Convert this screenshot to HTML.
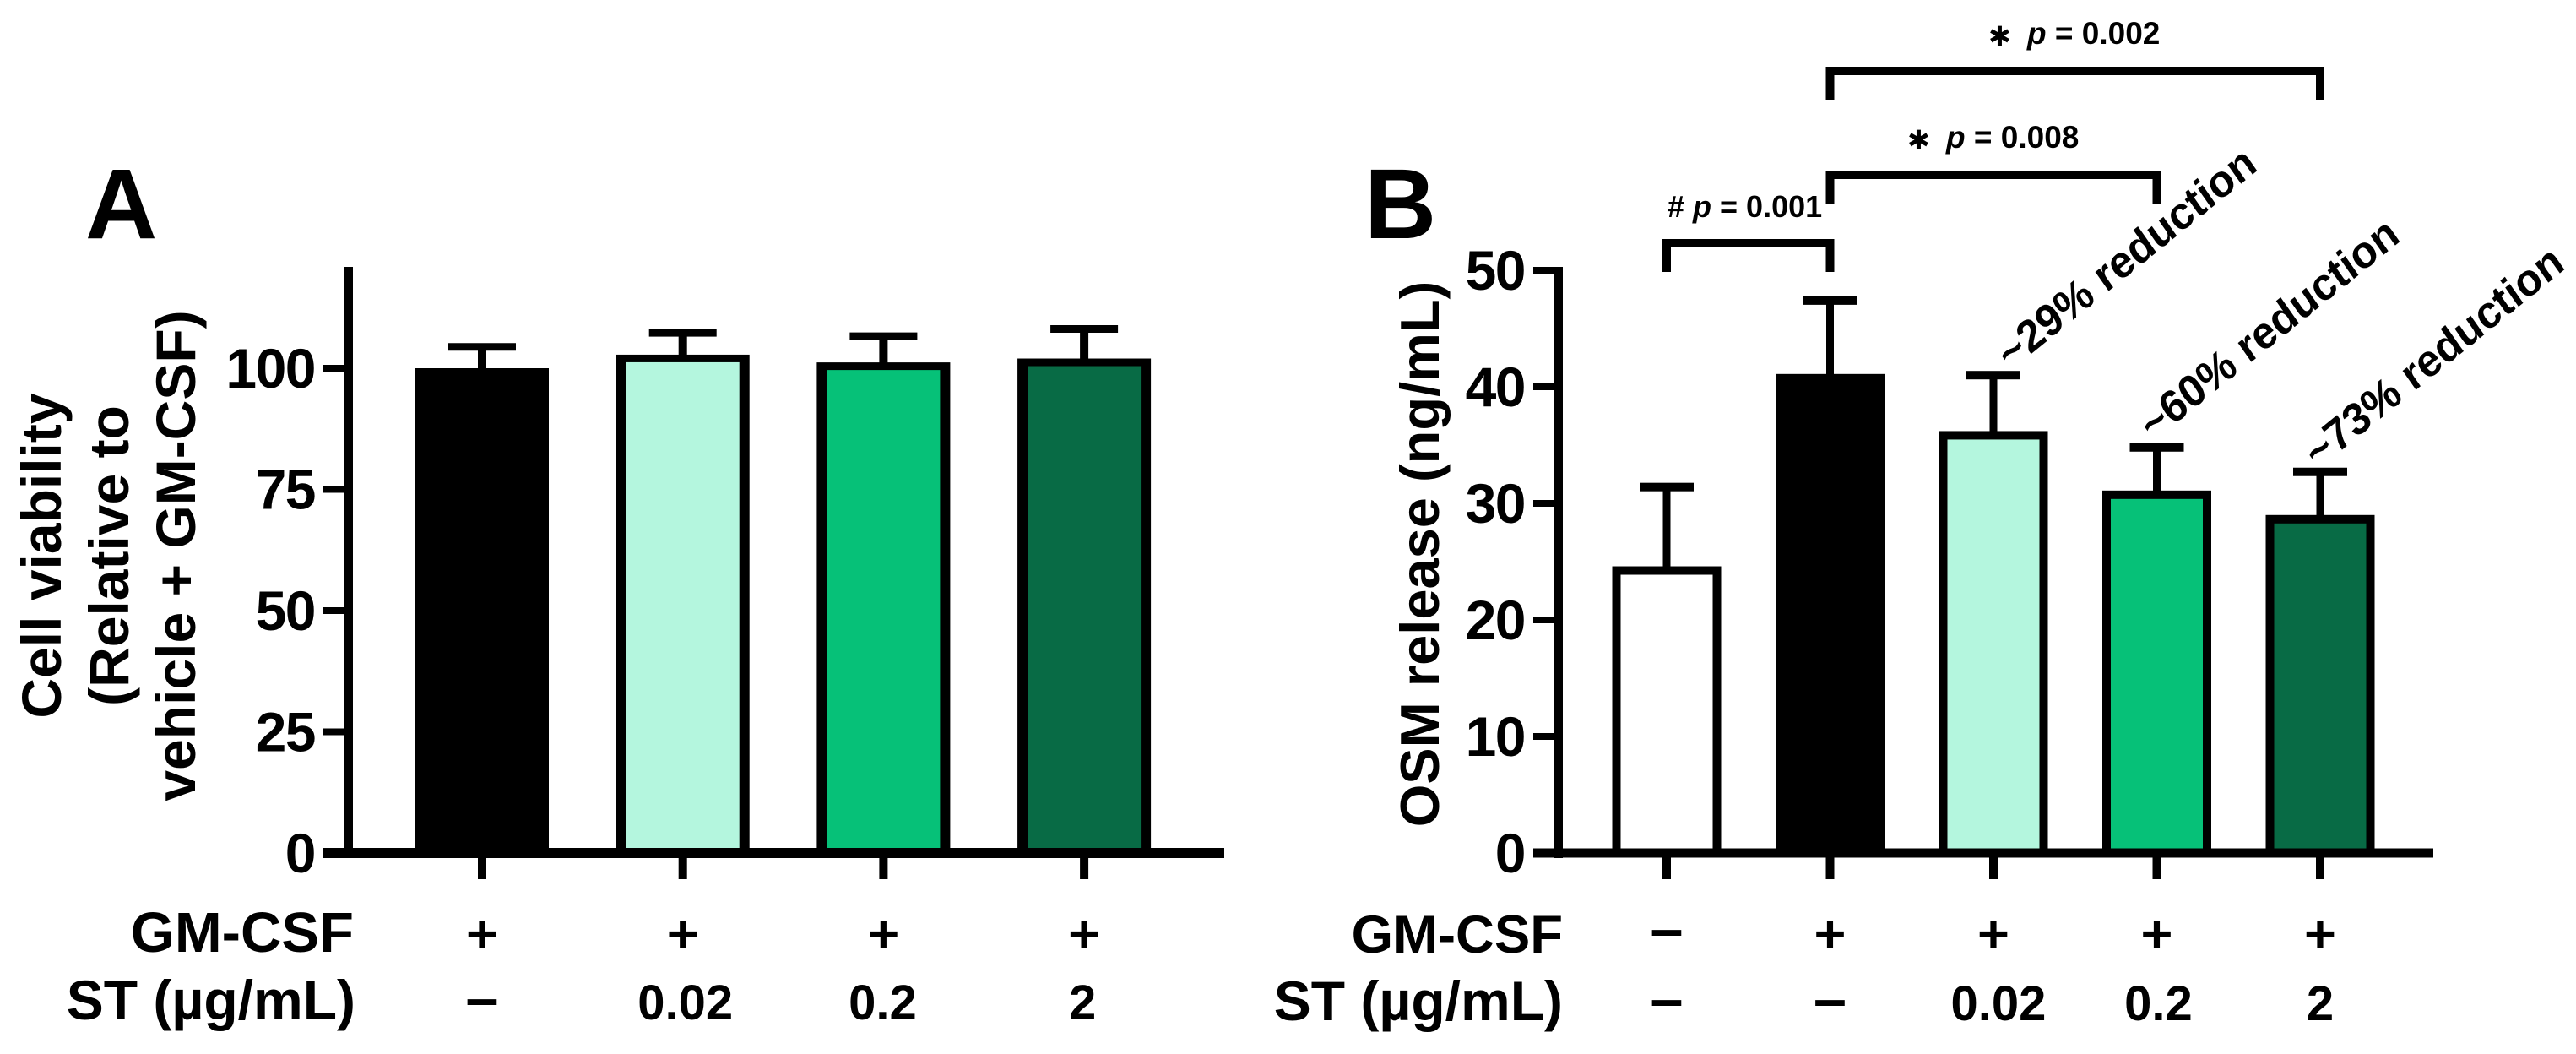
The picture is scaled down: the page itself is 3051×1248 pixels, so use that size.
<!DOCTYPE html>
<html lang="en">
<head>
<meta charset="utf-8">
<title>Cell viability and OSM release bar charts</title>
<style>
html,body{margin:0;padding:0;background:#fff;width:3051px;height:1248px;overflow:hidden}
svg{display:block}
text{font-family:"Liberation Sans",Arial,sans-serif;font-weight:700;fill:#000}
</style>
</head>
<body>
<svg id="figure" xmlns="http://www.w3.org/2000/svg" width="3051" height="1248" viewBox="0 0 3051 1248">
  <rect x="0" y="0" width="3051" height="1248" fill="#fff"/>
  <g id="panelA"></g>
  <g id="panelB"></g>

  <text x="101" y="282" font-size="118">A</text>
  <text x="1616" y="282" font-size="118">B</text>

  <g font-size="66" text-anchor="middle">
    <text transform="translate(72,658) rotate(-90)">Cell viability</text>
    <text transform="translate(152,658) rotate(-90)">(Relative to</text>
    <text transform="translate(231,658) rotate(-90)">vehicle + GM-CSF)</text>
  </g>
  <text font-size="65" text-anchor="middle" transform="translate(1704,656) rotate(-90)">OSM release (ng/mL)</text>

  <text x="419" y="1127" font-size="67" text-anchor="end">GM-CSF</text>
  <text x="421" y="1207" font-size="66" text-anchor="end">ST (µg/mL)</text>
  <text x="1851" y="1128" font-size="63.5" text-anchor="end">GM-CSF</text>
  <text x="1851" y="1208" font-size="66" text-anchor="end">ST (µg/mL)</text>

  <text x="2401" y="52" font-size="37"><tspan font-style="italic">p</tspan> = 0.002</text>
  <text x="2355" y="54" font-size="32" style="font-family:'DejaVu Sans',sans-serif">✱</text>
  <text x="2305" y="175" font-size="37"><tspan font-style="italic">p</tspan> = 0.008</text>
  <text x="2259" y="177" font-size="32" style="font-family:'DejaVu Sans',sans-serif">✱</text>
  <text x="1975" y="257" font-size="36"># <tspan font-style="italic">p</tspan> = 0.001</text>

  <g font-size="53.5">
    <text transform="translate(2381,439) scale(.93,1) rotate(-37)">~29% reduction</text>
    <text transform="translate(2550,523) scale(.93,1) rotate(-37)">~60% reduction</text>
    <text transform="translate(2745,556) scale(.93,1) rotate(-37)">~73% reduction</text>
  </g>
</svg>

<script>
// ---- Panel A data ----
const panelAFills = ['#000000', '#B4F6DE', '#06C178', '#086B45'];
const panelAValues = [100, 102.8, 101.2, 102];
const panelAErrorTops = [104.4, 107.3, 106.6, 108.1];
const panelATicks = [0, 25, 50, 75, 100];
const panelAGmCsf = ['+', '+', '+', '+'];
const panelASt = ['–', '0.02', '0.2', '2'];

// ---- Panel B data ----
const panelBFills = ['#FFFFFF', '#000000', '#B4F6DE', '#06C178', '#086B45'];
const panelBValues = [24.6, 41.1, 36.2, 31.1, 29];
const panelBErrorTops = [31.4, 47.4, 41, 34.8, 32.7];
const panelBTicks = [0, 10, 20, 30, 40, 50];
const panelBGmCsf = ['–', '+', '+', '+', '+'];
const panelBSt = ['–', '–', '0.02', '0.2', '2'];

// ---- Comparison brackets (group indices) ----
const bracketFrom = [0, 1, 1];
const bracketTo = [1, 3, 4];

// ---- Axis functions ----
function yA(v) { return 1010 - 5.74 * v; }
function xA(i) { return 571 + 237.7 * i; }
function yB(v) { return 1010 - 13.8 * v; }
function xB(i) { return 1974 + 193.5 * i; }

const NS = 'http://www.w3.org/2000/svg';
function make(parent, tag, attrs, content) {
  const el = document.createElementNS(NS, tag);
  for (const k in attrs) el.setAttribute(k, attrs[k]);
  if (content !== undefined) el.textContent = content;
  parent.appendChild(el);
  return el;
}

function drawPanel(root, prefix, opt) {
  const x = opt.x, y = opt.y;

  opt.values.forEach(function (v, i) {
    const left = x(i) - opt.barW / 2;
    const top = y(v);
    const base = y(0);
    const errY = y(opt.errors[i]);

    const stem = make(root, 'rect', { x: x(i) - opt.stemW / 2, y: errY, width: opt.stemW, height: top - errY + 2, fill: '#000' });
    
    

    const cap = make(root, 'rect', { x: x(i) - opt.capW / 2, y: errY - opt.capH / 2, width: opt.capW, height: opt.capH, fill: '#000' });
    
    

    const outer = make(root, 'rect', { x: left, y: top, width: opt.barW, height: base - top, fill: '#000' });
    
    

    const inner = make(root, 'rect', { x: left + opt.strokeX, y: top + opt.strokeY, width: opt.barW - 2 * opt.strokeX, height: base - top - opt.strokeY, fill: opt.fills[i] });
    
    

    const xt = make(root, 'rect', { x: x(i) - 5, y: y(0), width: 10, height: 31, fill: '#000' });
    
    

    const gmDash = opt.gm[i] === '–';
    const gm = make(root, 'text', { x: x(i), y: opt.row1Y - (gmDash ? 5 : 0), 'font-size': gmDash ? 70 : 65, 'text-anchor': 'middle' }, opt.gm[i]);
    
    

    const isDash = opt.st[i] === '–';
    const st = make(root, 'text', { x: x(i) + opt.stShift[i], y: opt.row2Y - (isDash ? 2 : 0), 'font-size': isDash ? 70 : 58, 'text-anchor': 'middle' }, opt.st[i]);
    
    
  });

  const yAxis = make(root, 'rect', { x: opt.axisX - 5, y: y(0) - 694, width: 10, height: 700, fill: '#000' });
  
  

  const xAxis = make(root, 'rect', { x: opt.axisX - 30, y: y(0) - opt.xAxisH / 2, width: opt.axisLen, height: opt.xAxisH, fill: '#000' });
  
  

  opt.ticks.forEach(function (t) {
    const tick = make(root, 'rect', { x: opt.axisX - 30, y: y(t) - 4, width: 30, height: 8, fill: '#000' });
    
    

    const label = make(root, 'text', { x: opt.axisX - 40, y: y(t) + 23, 'font-size': 66, 'text-anchor': 'end', 'letter-spacing': -1.5 }, String(t));
    
    
  });
}

drawPanel(document.getElementById('panelA'), 'panel-a', {
  x: xA, y: yA, values: panelAValues, errors: panelAErrorTops, fills: panelAFills,
  ticks: panelATicks, gm: panelAGmCsf, st: panelASt,
  barW: 158, strokeX: 12, strokeY: 9, stemW: 10, capW: 80, capH: 9,
  axisX: 413, axisLen: 1067, xAxisH: 12, row1Y: 1128, row2Y: 1207, stShift: [0, 3, -1, -2]
});

drawPanel(document.getElementById('panelB'), 'panel-b', {
  x: xB, y: yB, values: panelBValues, errors: panelBErrorTops, fills: panelBFills,
  ticks: panelBTicks, gm: panelBGmCsf, st: panelBSt,
  barW: 129, strokeX: 10, strokeY: 10, stemW: 9, capW: 64, capH: 10,
  axisX: 1846, axisLen: 1066, xAxisH: 11, row1Y: 1128, row2Y: 1208, stShift: [0, 0, 6, 2, 0]
});

// Comparison brackets, anchored on the compared groups
const bracketRoot = document.getElementById('panelB');
const bracketBarTop = [283, 202, 79];
bracketFrom.forEach(function (from, i) {
  const x0 = xB(from) - 5;
  const x1 = xB(bracketTo[i]) + 5;
  const top = bracketBarTop[i];
  const d = 'M' + x0 + ' ' + (top + 39) + 'V' + top + 'H' + x1 + 'V' + (top + 39) + 'H' + (x1 - 10) + 'V' + (top + 10) + 'H' + (x0 + 10) + 'V' + (top + 39) + 'Z';
  const bracket = make(bracketRoot, 'path', { d: d, fill: '#000' });
  
  
});
</script>
</body>
</html>
